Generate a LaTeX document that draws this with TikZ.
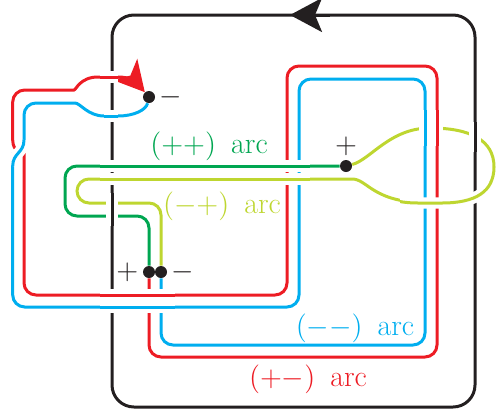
\documentclass[tikz,border=0pt]{standalone}
\usepackage{amsmath}
\usepackage{tikz}
\usetikzlibrary{arrows.meta}

\definecolor{knotred}{RGB}{237,28,36}
\definecolor{knotblue}{RGB}{0,174,239}
\definecolor{knotgreen}{RGB}{0,166,81}
\definecolor{knotyellow}{RGB}{190,214,48}
\definecolor{knotblack}{RGB}{35,31,32}

\begin{document}
\begin{tikzpicture}[x=0.5pt, y=-0.5pt,
    strand/.style={line width=1.5pt, rounded corners=6pt},
    redarc/.style={strand, draw=knotred},
    bluearc/.style={strand, draw=knotblue},
    greenarc/.style={strand, draw=knotgreen},
    yellowarc/.style={strand, draw=knotyellow},
    knotframe/.style={line width=1.5pt, draw=knotblack, rounded corners=11pt},
    tipline/.style={line width=1.5pt, sharp corners},
    crossover/.style={preaction={draw=white, line width=5.6pt}},
    vertex/.style={circle, fill=knotblack, minimum size=6pt, inner sep=0pt},
    sign/.style={font=\fontsize{15}{18}\selectfont, text=knotblack, inner sep=2pt},
    arclabel/.style={font=\fontsize{15}{18}\selectfont, inner sep=0pt}]
    \useasboundingbox (0,0) rectangle (496,413);

    \draw[knotframe] (112,15) rectangle (475,407);
    \draw[tipline, draw=knotblack, -{Stealth[length=16pt, width=17pt, inset=3.5pt]}] (330,15) -- (290,15);

    \node[vertex, label={[sign]right:$-$}] (tm) at (149,97) {};
    \node[vertex, label={[sign]above:$+$}] (tp) at (346,166) {};
    \node[vertex, label={[sign]left:$+$}] (bp) at (149,272) {};
    \node[vertex, label={[sign]right:$-$}] (bm) at (161,272) {};

    \draw[redarc]
        (bp) -- (149,357) -- (437,357) -- (437,66) -- (287,66) -- (287,295) -- (24,295) -- (24,166)
        [sharp corners] .. controls (24,153) and (12.7,153) .. (12.7,140)
        [rounded corners=6pt] -- (12.7,90) -- (62,90)
        [sharp corners] .. controls (76,90) and (80,77) .. (98,77) -- (118,77);
    \draw[tipline, draw=knotred, -{Stealth[length=15pt, width=16pt, inset=4pt]}]
        (118,77) .. controls (130,77) and (136,82) .. (tm);
    \draw[bluearc]
        (bm) -- (161,345) -- (425,345) -- (425,79) -- (299,79) -- (299,307) -- (12.7,307) -- (12.7,166)
        [sharp corners] .. controls (12.7,153) and (24,153) .. (24,140)
        [rounded corners=6pt] -- (24,103) -- (63,103)
        [sharp corners] .. controls (80,103) and (88,116) .. (104,116) -- (118,116)
        .. controls (134,116) and (146,110) .. (tm);
    \draw[greenarc] (bp) -- (149,216) -- (65,216) -- (65,166) -- (tp);
    \draw[yellowarc]
        (bm) -- (161,203) -- (77,203) -- (77,179) -- (340,179)
        [sharp corners] .. controls (368,179) and (372,203) .. (430,203)
        .. controls (475,203) and (494,192) .. (494,167)
        .. controls (494,140) and (470,128) .. (430,128)
        .. controls (390,128) and (370,160) .. (tp);

    \draw[redarc, crossover] (100,77) -- (118,77);
    \draw[bluearc, crossover] (104,116) -- (118,116);
    \draw[greenarc, crossover] (100,166) -- (310,166);
    \draw[yellowarc, crossover] (100,179) -- (310,179);
    \draw[knotframe, crossover] (112,193) -- (112,226);
    \draw[redarc, crossover] (100,295) -- (175,295);
    \draw[bluearc, crossover] (100,307) -- (175,307);
    \draw[bluearc, crossover] (12.7,166) .. controls (12.7,153) and (24,153) .. (24,140);
    \draw[knotframe, crossover] (475,122) -- (475,152);
    \draw[bluearc, crossover] (425,110) -- (425,146);
    \draw[redarc, crossover] (437,110) -- (437,146);
    \begin{scope}
        \clip (400,182) rectangle (496,216);
        \draw[yellowarc, crossover] (340,179) .. controls (368,179) and (372,203) .. (430,203)
            .. controls (475,203) and (494,192) .. (494,167);
    \end{scope}

    \node[arclabel, text=knotgreen] (lpp) at (209,146) {$(++)$\enspace arc};
    \node[arclabel, text=knotyellow] (lmp) at (222,206) {$(-+)$\enspace arc};
    \node[arclabel, text=knotblue] (lmm) at (355,328) {$(--)$\enspace arc};
    \node[arclabel, text=knotred] (lpm) at (308,379) {$(+-)$\enspace arc};
\end{tikzpicture}
\end{document}
